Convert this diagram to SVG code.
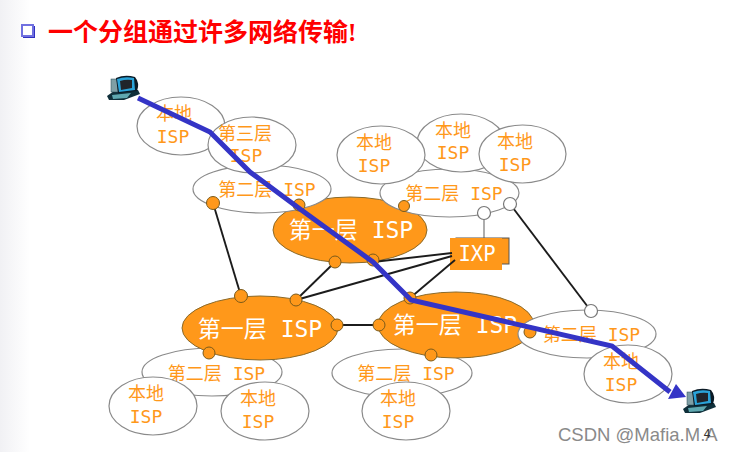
<svg xmlns="http://www.w3.org/2000/svg" width="734" height="452" viewBox="0 0 734 452">
<defs>
<linearGradient id="bg" x1="0" x2="1" y1="0" y2="0"><stop offset="0" stop-color="#f1f1f4"/><stop offset="1" stop-color="#ffffff"/></linearGradient>
<g id="pc">
<path d="M0 21 L7 16 L31 15 L33 19 L17 25 L2 25 Z" fill="#0f2f3a"/>
<path d="M5 20 L24 18 L20 23 L6 24 Z" fill="#5fa8b0"/>
<rect x="4" y="4" width="7" height="13" fill="#7f9fa5" stroke="#2a4a55" stroke-width="0.5"/>
<path d="M9 3 Q18 -1 28 2 Q33 8 30 16 L11 18 Z" fill="#0b1a25"/>
<path d="M10 4 Q18 1 27 3 L28 15 L12 17 Z" fill="#2aa3d8"/>
<path d="M13 6 Q19 4 25 5 L25 13 L14 15 Z" fill="#20242a"/>
</g>
</defs>
<style>
.isp{fill:#fff;stroke:#8a8a8a;stroke-width:1.2}
.t1{fill:#ff981a;stroke:#8a6a2a;stroke-width:1}
.dot{fill:#ff981a;stroke:#7a5a1a;stroke-width:1}
.wdot{fill:#fff;stroke:#777;stroke-width:1.2}
.ln{stroke:#1c1c1c;stroke-width:1.9;fill:none}
text{font-family:"DejaVu Sans Mono","Noto Sans CJK SC",monospace;text-anchor:middle}
.o{fill:#ff981a;font-size:18px}
.w{fill:#fff;font-size:23px}
</style>
<rect width="734" height="452" fill="#fff"/>
<rect width="30" height="452" fill="url(#bg)"/>
<g id="title">
<rect x="23" y="26" width="12" height="12" fill="#3030c0"/>
<rect x="22" y="25" width="11" height="11" fill="#fff" stroke="#7070e0" stroke-width="2"/>
<text x="48" y="41" style="text-anchor:start;font-family:'Liberation Serif','Noto Sans CJK SC',serif;font-weight:bold;font-size:25px" fill="#ff0000">一个分组通过许多网络传输!</text>
</g>
<g id="t1-top"><ellipse class="t1" cx="350" cy="230" rx="77" ry="33"/><text class="w" x="351" y="238">第一层 ISP</text></g>
<g id="local-a"><ellipse class="isp" cx="181" cy="126" rx="44" ry="29"/><text class="o" x="174" y="120">本地</text><text class="o" x="173" y="143">ISP</text></g>
<g id="t2-a"><ellipse class="isp" cx="262" cy="189" rx="69" ry="24"/><text class="o" x="267" y="196">第二层 ISP</text></g>
<g id="t3"><ellipse class="isp" cx="252" cy="145" rx="44" ry="28"/><text class="o" x="245" y="140">第三层</text><text class="o" x="246" y="162">ISP</text></g>
<g id="t2-b"><ellipse class="isp" cx="449.5" cy="193" rx="69.5" ry="24"/><text class="o" x="454" y="200">第二层 ISP</text></g>
<g id="local-b"><ellipse class="isp" cx="461" cy="143" rx="44" ry="29"/><text class="o" x="453" y="137">本地</text><text class="o" x="453" y="159">ISP</text></g>
<g id="local-c"><ellipse class="isp" cx="381" cy="155" rx="44" ry="29"/><text class="o" x="374" y="149">本地</text><text class="o" x="374" y="172">ISP</text></g>
<g id="local-d"><ellipse class="isp" cx="522.5" cy="154" rx="43.5" ry="29"/><text class="o" x="515" y="148">本地</text><text class="o" x="515" y="171">ISP</text></g>
<g id="connectors-lower">
<line class="ln" x1="213" y1="203" x2="241" y2="296"/>
<line class="ln" x1="484" y1="213" x2="484" y2="238" style="stroke:#777;stroke-width:1.2"/>
<line class="ln" x1="510" y1="204" x2="591" y2="311"/>
<line class="ln" x1="337" y1="325" x2="379" y2="325"/>
</g>
<g id="ixp"><rect x="456" y="238" width="53" height="26" fill="#ff981a" stroke="#555"/><rect x="450" y="238" width="52" height="32" fill="#ff981a"/><text class="w" x="477" y="261" style="font-size:20.5px">IXP</text></g>
<g id="t2-c"><ellipse class="isp" cx="212" cy="372" rx="70" ry="24"/><text class="o" x="216.5" y="380">第二层 ISP</text></g>
<g id="t1-left"><ellipse class="t1" cx="260" cy="328" rx="78" ry="32"/><text class="w" x="260" y="337">第一层 ISP</text></g>
<g id="t2-d"><ellipse class="isp" cx="402" cy="373" rx="70" ry="24"/><text class="o" x="406" y="380">第二层 ISP</text></g>
<g id="t1-right"><ellipse class="t1" cx="456" cy="325" rx="78" ry="33"/><text class="w" x="455" y="333">第一层 ISP</text></g>
<g id="t2-e"><ellipse class="isp" cx="587" cy="334" rx="69" ry="24"/><text class="o" x="591.5" y="341">第二层 ISP</text></g>
<g id="local-e"><ellipse class="isp" cx="153" cy="406" rx="44" ry="29"/><text class="o" x="146" y="400">本地</text><text class="o" x="146" y="423">ISP</text></g>
<g id="local-f"><ellipse class="isp" cx="265" cy="411" rx="44" ry="29"/><text class="o" x="258" y="405">本地</text><text class="o" x="258" y="428">ISP</text></g>
<g id="local-g"><ellipse class="isp" cx="406" cy="411" rx="44" ry="29"/><text class="o" x="398" y="405">本地</text><text class="o" x="398" y="428">ISP</text></g>
<g id="local-h"><ellipse class="isp" cx="628" cy="374" rx="44" ry="29"/><text class="o" x="621" y="368">本地</text><text class="o" x="621" y="391">ISP</text></g>
<g id="connectors">
<line class="ln" x1="373" y1="262" x2="452" y2="253"/>
<line class="ln" x1="296" y1="300" x2="452" y2="256"/>
<line class="ln" x1="296" y1="300" x2="335" y2="262"/>
<line class="ln" x1="410" y1="298" x2="455" y2="260"/>
</g>
<g id="dots">
<circle class="dot" cx="213" cy="203" r="6.5"/>
<circle class="dot" cx="299" cy="205" r="6"/>
<circle class="dot" cx="404" cy="206" r="5.5"/>
<circle class="dot" cx="335" cy="262" r="6"/>
<circle class="dot" cx="373" cy="260" r="6"/>
<circle class="dot" cx="241" cy="296" r="6.5"/>
<circle class="dot" cx="296" cy="300" r="6"/>
<circle class="dot" cx="337" cy="325" r="6"/>
<circle class="dot" cx="379" cy="325" r="6"/>
<circle class="dot" cx="410" cy="298" r="6"/>
<circle class="dot" cx="209" cy="353" r="6"/>
<circle class="dot" cx="431" cy="355" r="6"/>
<circle class="dot" cx="530" cy="332" r="6"/>
<circle class="wdot" cx="484" cy="213" r="6.5"/>
<circle class="wdot" cx="510" cy="204" r="6.5"/>
<circle class="wdot" cx="591" cy="311" r="6.5"/>
</g>
<g id="route">
<polyline points="138,98 210,132 250,172 300,209 373,262 411,300 612,346 670,392" fill="none" stroke="#3434c6" stroke-width="5"/>
<polygon points="686,397 668,399 676,384" fill="#3434c6"/>
</g>
<g id="host-a"><use href="#pc" x="107" y="75"/></g>
<g id="host-b"><use href="#pc" x="683" y="388"/></g>
<text x="558" y="441" style="font-family:'Liberation Sans',sans-serif;font-size:18.5px;text-anchor:start" fill="#8a8a8a">CSDN @Mafia.M.A</text>
<text x="707" y="438" style="font-family:'Liberation Sans',sans-serif;font-size:12px" fill="#333">4</text>
</svg>
